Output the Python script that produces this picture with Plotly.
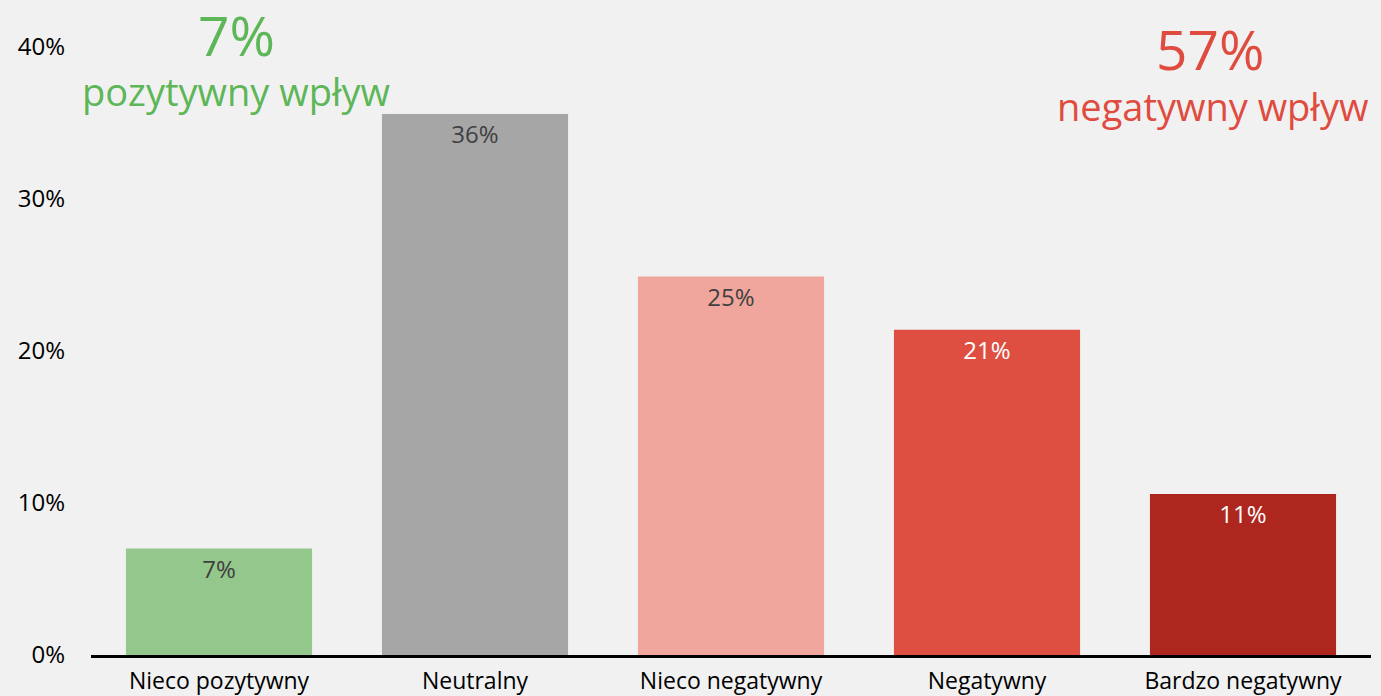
import plotly.graph_objects as go

categories = ["Nieco pozytywny", "Neutralny", "Nieco negatywny", "Negatywny", "Bardzo negatywny"]
values = [7.0, 35.6, 24.9, 21.4, 10.6]
labels = ["7%", "36%", "25%", "21%", "11%"]
bar_colors = ["#93C78B", "#A6A6A6", "#F1A69D", "#DE4F42", "#AD271E"]
label_colors = ["#404040", "#404040", "#404040", "#FFFFFF", "#FFFFFF"]

y_ticks = [0, 10, 20, 30, 40]
y_tick_text = ["0%", "10%", "20%", "30%", "40%"]

positive_total = "7%"
negative_total = "57%"

FONT = "'Open Sans', 'Noto Sans', sans-serif"
GREEN = "#5DB657"
RED = "#E04B40"

fig = go.Figure(go.Bar(
    x=categories, y=values, text=labels,
    marker=dict(color=bar_colors, line=dict(width=0)),
    textposition="inside", insidetextanchor="end",
    textfont=dict(family=FONT, size=24, color=label_colors),
    textangle=0, hoverinfo="skip",
))

fig.update_layout(
    width=1381, height=696,
    paper_bgcolor="#F1F1F1", plot_bgcolor="#F1F1F1",
    margin=dict(l=91, r=10, t=47, b=41),
    bargap=0.273, showlegend=False,
    font=dict(family=FONT, size=20, color="#000000"),
    xaxis=dict(showline=True, linecolor="#000000", linewidth=3,
               ticks="", showgrid=False, tickfont=dict(size=23),
               ticklabelstandoff=3, automargin=False),
    yaxis=dict(range=[0, 40], showgrid=False, zeroline=False, showline=False,
               tickmode="array", tickvals=y_ticks, ticktext=y_tick_text, ticks="",
               ticklabelstandoff=25, tickfont=dict(size=24), automargin=False),
)

plot_h = 696 - 47 - 41


def px_x(p):
    return (p - 91) / 1280


def px_y(p):
    return (655 - p) / plot_h


fig.add_annotation(x=px_x(236), y=px_y(34), xref="paper", yref="paper",
                   xanchor="center", yanchor="middle", text=positive_total,
                   showarrow=False, font=dict(family=FONT, size=55, color=GREEN))
fig.add_annotation(x=px_x(236), y=px_y(91), xref="paper", yref="paper",
                   xanchor="center", yanchor="middle", text="pozytywny wpływ",
                   showarrow=False, font=dict(family=FONT, size=38, color=GREEN))
fig.add_annotation(x=px_x(1210), y=px_y(48), xref="paper", yref="paper",
                   xanchor="center", yanchor="middle", text=negative_total,
                   showarrow=False, font=dict(family=FONT, size=55, color=RED))
fig.add_annotation(x=px_x(1212), y=px_y(106), xref="paper", yref="paper",
                   xanchor="center", yanchor="middle", text="negatywny wpływ",
                   showarrow=False, font=dict(family=FONT, size=38, color=RED))

fig.write_html("out.html", config={"displayModeBar": False},
               post_script="document.body.style.margin='0';")
